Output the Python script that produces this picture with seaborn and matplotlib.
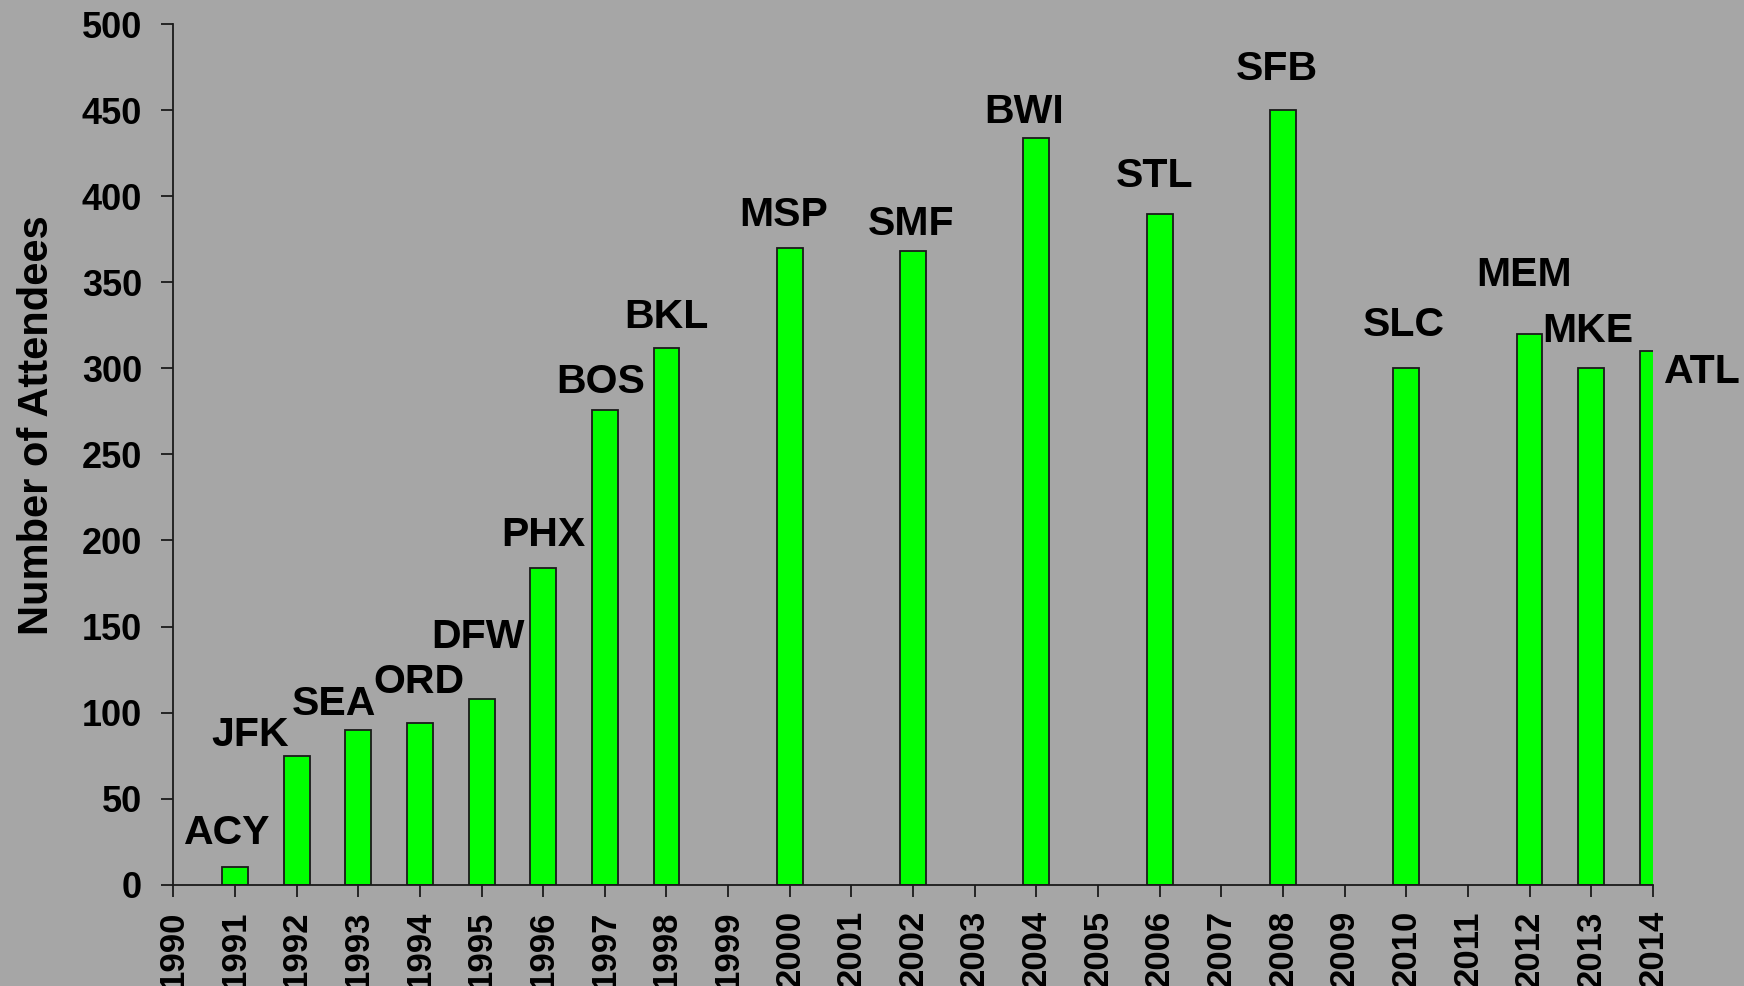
import matplotlib
matplotlib.use("Agg")
import numpy as np
import pandas as pd
import matplotlib.pyplot as plt
import seaborn as sns

# data
years = [1991, 1992, 1993, 1994, 1995, 1996, 1997, 1998, 2000, 2002,
         2004, 2006, 2008, 2010, 2012, 2013, 2014]
attendees = [10, 75, 90, 94, 108, 184, 276, 312, 370, 368,
             434, 390, 450, 300, 320, 300, 310]
sites = ["ACY", "JFK", "SEA", "ORD", "DFW", "PHX", "BOS", "BKL", "MSP", "SMF",
         "BWI", "STL", "SFB", "SLC", "MEM", "MKE", "ATL"]
year_ticks = list(range(1990, 2015))
y_ticks = list(range(0, 501, 50))

# where each site name sits relative to its bar (years, attendees)
label_dx = [-0.12, -0.76, -0.39, -0.02, -0.06, 0.0, -0.06, 0.0, -0.1, -0.03,
            -0.2, -0.08, -0.1, -0.04, -0.09, -0.06, 0.8]
label_dy = [20, 12, 15, 24, 36, 19, 16, 18, 19, 16,
            15, 22, 24, 25, 34, 22, -12]

bg = "#A6A6A6"
plt.rcParams["font.family"] = ["Liberation Sans", "DejaVu Sans"]
plt.rcParams["font.weight"] = "bold"

df = pd.DataFrame({"year": years, "attendees": attendees, "site": sites})

fig = plt.figure(figsize=(17.44, 9.86), dpi=100, facecolor=bg)
ax = fig.add_axes([0.0994, 0.1028, 0.9477 - 0.0994, 0.9754 - 0.1028])
ax.set_facecolor(bg)

sns.barplot(data=df, x="year", y="attendees", native_scale=True, width=0.42,
            color="#00FF00", saturation=1, edgecolor="#1a1a1a", linewidth=1.3,
            ax=ax)

for i in range(len(df)):
    ax.text(df["year"][i] + label_dx[i], df["attendees"][i] + label_dy[i],
            df["site"][i], ha="center", va="center", fontsize=29.5,
            fontweight="bold", clip_on=False)

ax.set_xlim(1990, 2014)
ax.set_ylim(0, 500)
ax.set_xticks(year_ticks)
ax.set_xticklabels([str(y) for y in year_ticks], rotation=90, fontsize=25,
                   fontweight="bold")
ax.set_yticks(y_ticks)
ax.set_yticklabels([str(v) for v in y_ticks], fontsize=26, fontweight="bold")
ax.tick_params(axis="both", direction="out", length=8.4, width=1.3, color="#1a1a1a")
ax.tick_params(axis="x", pad=10)
ax.tick_params(axis="y", pad=14)
ax.set_xlabel("")
ax.set_ylabel("Number of Attendees", fontsize=30, fontweight="bold", labelpad=18)
ax.yaxis.label.set_y(0.534)

for s in ["top", "right"]:
    ax.spines[s].set_visible(False)
for s in ["left", "bottom"]:
    ax.spines[s].set_linewidth(1.3)
    ax.spines[s].set_color("#1a1a1a")

fig.savefig("out.png", dpi=100, facecolor=bg)
